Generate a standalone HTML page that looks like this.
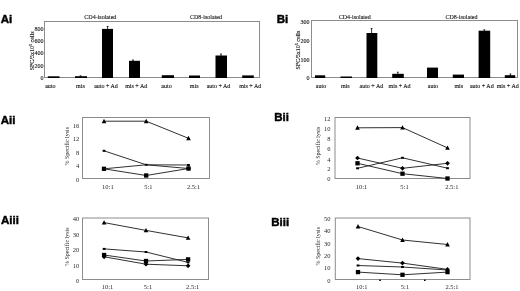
<!DOCTYPE html>
<html><head><meta charset="utf-8">
<style>
html,body{margin:0;padding:0;background:#fff;}
body{width:520px;height:291px;overflow:hidden;}
svg{display:block;font-family:"Liberation Serif",serif;filter:grayscale(1);}
.bar text{fill:#1a1a1a;stroke:#1a1a1a;stroke-width:0.13px;}
.ln text{fill:#2a2a2a;stroke:none;}
.pl{font-family:"Liberation Sans",sans-serif;font-weight:bold;font-size:11.5px;fill:#000;stroke:#000;stroke-width:0.45px;}
</style></head>
<body>
<svg width="520" height="291" viewBox="0 0 520 291">
<rect width="520" height="291" fill="#fff"/>
<text x="0.7" y="22.9" class="pl">Ai</text>
<text x="276.8" y="22.6" class="pl">Bi</text>
<text x="0.7" y="123.8" class="pl">Aii</text>
<text x="274.3" y="120.9" class="pl">Bii</text>
<text x="1.0" y="224.2" class="pl">Aiii</text>
<text x="271.2" y="225.9" class="pl">Biii</text>
<g class="bar">
<rect x="44.5" y="21.5" width="215.0" height="56.0" fill="none" stroke="#8c8c8c" stroke-width="1"/>
<text x="43.6" y="30.5" text-anchor="end" font-size="6.0" >800</text>
<text x="43.6" y="42.8" text-anchor="end" font-size="6.0" >600</text>
<text x="43.6" y="55.3" text-anchor="end" font-size="6.0" >400</text>
<text x="43.6" y="67.7" text-anchor="end" font-size="6.0" >200</text>
<text x="43.6" y="79.9" text-anchor="end" font-size="6.0" >0</text>
<text x="0" y="0" text-anchor="middle" font-size="6.0" transform="translate(33.5,50.9) rotate(-90)">SFC/5x10<tspan font-size='4' dy='-2'>5</tspan><tspan dy='2'> cells</tspan></text>
<text x="100.3" y="19.4" text-anchor="middle" font-size="6.0" >CD4-isolated</text>
<text x="206.0" y="19.2" text-anchor="middle" font-size="6.0" >CD8-isolated</text>
<rect x="47.8" y="76.3" width="11.7" height="1.7" fill="#000"/>
<rect x="75" y="76.2" width="12" height="1.8" fill="#000"/>
<rect x="102" y="28.9" width="11" height="49.1" fill="#000"/>
<rect x="129" y="60.8" width="11" height="17.2" fill="#000"/>
<rect x="161.8" y="75.2" width="12.2" height="2.8" fill="#000"/>
<rect x="189" y="75.5" width="11" height="2.5" fill="#000"/>
<rect x="215.5" y="55.5" width="11.5" height="22.5" fill="#000"/>
<rect x="242.2" y="75.4" width="11.6" height="2.6" fill="#000"/>
<line x1="107.6" y1="26.5" x2="107.6" y2="29" stroke="#000" stroke-width="0.8"/>
<line x1="106.7" y1="26.5" x2="108.5" y2="26.5" stroke="#000" stroke-width="0.8"/>
<line x1="221.0" y1="54.0" x2="221.0" y2="56" stroke="#000" stroke-width="0.8"/>
<line x1="220.1" y1="54.0" x2="221.9" y2="54.0" stroke="#000" stroke-width="0.8"/>
<line x1="133.0" y1="60.0" x2="133.0" y2="61" stroke="#000" stroke-width="0.8"/>
<line x1="132.1" y1="60.0" x2="133.9" y2="60.0" stroke="#000" stroke-width="0.8"/>
<line x1="80.5" y1="75.8" x2="80.5" y2="76.5" stroke="#000" stroke-width="0.8"/>
<line x1="79.6" y1="75.8" x2="81.4" y2="75.8" stroke="#000" stroke-width="0.8"/>
<text x="50.3" y="88.3" text-anchor="middle" font-size="6.0" >auto</text>
<text x="80.4" y="88.3" text-anchor="middle" font-size="6.0" >mis</text>
<text x="106.0" y="88.3" text-anchor="middle" font-size="6.0" >auto + Ad</text>
<text x="136.2" y="88.3" text-anchor="middle" font-size="6.0" >mis + Ad</text>
<text x="166.5" y="88.3" text-anchor="middle" font-size="6.0" >auto</text>
<text x="194.2" y="88.3" text-anchor="middle" font-size="6.0" >mis</text>
<text x="218.5" y="88.3" text-anchor="middle" font-size="6.0" >auto + Ad</text>
<text x="250.2" y="88.3" text-anchor="middle" font-size="6.0" >mis + Ad</text>
</g>
<g class="bar">
<rect x="311.5" y="20.5" width="206.0" height="57.0" fill="none" stroke="#8c8c8c" stroke-width="1"/>
<text x="309.6" y="24.3" text-anchor="end" font-size="6.0" >300</text>
<text x="309.6" y="43.0" text-anchor="end" font-size="6.0" >200</text>
<text x="309.6" y="61.8" text-anchor="end" font-size="6.0" >100</text>
<text x="309.6" y="80.4" text-anchor="end" font-size="6.0" >0</text>
<text x="0" y="0" text-anchor="middle" font-size="6.0" transform="translate(300.3,50.1) rotate(-90)">SFC/5x10<tspan font-size='4' dy='-2'>5</tspan><tspan dy='2'> cells</tspan></text>
<text x="354.7" y="19.1" text-anchor="middle" font-size="6.0" >CD4-isolated</text>
<text x="461.5" y="19.0" text-anchor="middle" font-size="6.0" >CD8-isolated</text>
<rect x="315" y="75.3" width="10.2" height="2.7" fill="#000"/>
<rect x="340.5" y="76.5" width="11.5" height="1.5" fill="#000"/>
<rect x="366.5" y="33.0" width="10.8" height="45.0" fill="#000"/>
<rect x="392.2" y="73.8" width="11.6" height="4.2" fill="#000"/>
<rect x="427" y="67.6" width="11" height="10.4" fill="#000"/>
<rect x="452.8" y="74.6" width="11.2" height="3.4" fill="#000"/>
<rect x="478.6" y="30.7" width="11.6" height="47.3" fill="#000"/>
<rect x="504.8" y="75.2" width="10.4" height="2.8" fill="#000"/>
<line x1="371.6" y1="28.5" x2="371.6" y2="34" stroke="#000" stroke-width="0.8"/>
<line x1="370.7" y1="28.5" x2="372.5" y2="28.5" stroke="#000" stroke-width="0.8"/>
<line x1="397.8" y1="72.2" x2="397.8" y2="74" stroke="#000" stroke-width="0.8"/>
<line x1="396.9" y1="72.2" x2="398.7" y2="72.2" stroke="#000" stroke-width="0.8"/>
<line x1="484.3" y1="29.8" x2="484.3" y2="31" stroke="#000" stroke-width="0.8"/>
<line x1="483.4" y1="29.8" x2="485.2" y2="29.8" stroke="#000" stroke-width="0.8"/>
<line x1="510.4" y1="74.0" x2="510.4" y2="75.5" stroke="#000" stroke-width="0.8"/>
<line x1="509.5" y1="74.0" x2="511.3" y2="74.0" stroke="#000" stroke-width="0.8"/>
<text x="321.0" y="87.9" text-anchor="middle" font-size="6.0" >auto</text>
<text x="345.3" y="87.9" text-anchor="middle" font-size="6.0" >mis</text>
<text x="371.4" y="87.9" text-anchor="middle" font-size="6.0" >auto + Ad</text>
<text x="399.6" y="87.9" text-anchor="middle" font-size="6.0" >mis + Ad</text>
<text x="432.9" y="87.9" text-anchor="middle" font-size="6.0" >auto</text>
<text x="458.8" y="87.9" text-anchor="middle" font-size="6.0" >mis</text>
<text x="481.8" y="87.9" text-anchor="middle" font-size="6.0" >auto + Ad</text>
<text x="507.7" y="87.9" text-anchor="middle" font-size="6.0" >mis + Ad</text>
</g>
<g class="ln">
<rect x="82.5" y="117.5" width="127.0" height="61.0" fill="none" stroke="#8c8c8c" stroke-width="1"/>
<text x="79.3" y="127.7" text-anchor="end" font-size="6.5" >16</text>
<text x="79.3" y="141.2" text-anchor="end" font-size="6.5" >12</text>
<text x="79.3" y="154.7" text-anchor="end" font-size="6.5" >8</text>
<text x="79.3" y="168.2" text-anchor="end" font-size="6.5" >4</text>
<text x="79.3" y="181.9" text-anchor="end" font-size="6.5" >0</text>
<text x="0" y="0" text-anchor="middle" font-size="6.0" transform="translate(68.6,146.25) rotate(-90)">% Specific lysis</text>
<polyline points="104.0,121.2 146.2,121.2 188.5,138.3" fill="none" stroke="#1a1a1a" stroke-width="0.9"/>
<path d="M104.0,118.75 L106.33,123.16 L101.67,123.16 Z" fill="#000"/>
<path d="M146.2,118.75 L148.53,123.16 L143.87,123.16 Z" fill="#000"/>
<path d="M188.5,135.85 L190.83,140.26 L186.17,140.26 Z" fill="#000"/>
<polyline points="104.0,150.8 146.2,164.8 188.5,165.0" fill="none" stroke="#1a1a1a" stroke-width="0.9"/>
<rect x="102.6" y="149.8" width="2.8" height="2.0" fill="#000"/>
<rect x="144.8" y="163.8" width="2.8" height="2.0" fill="#000"/>
<rect x="187.1" y="164.0" width="2.8" height="2.0" fill="#000"/>
<polyline points="104.0,168.8 146.2,175.5 188.5,168.5" fill="none" stroke="#1a1a1a" stroke-width="0.9"/>
<rect x="101.85" y="166.65" width="4.3" height="4.3" fill="#000"/>
<rect x="144.05" y="173.35" width="4.3" height="4.3" fill="#000"/>
<rect x="186.35" y="166.35" width="4.3" height="4.3" fill="#000"/>
<polyline points="104.0,168.8 146.2,164.8 188.5,168.5" fill="none" stroke="#1a1a1a" stroke-width="0.9"/>
<circle cx="188.5" cy="168.5" r="2.1" fill="#000"/>
<text x="107.9" y="189.2" text-anchor="middle" font-size="6.5" >10:1</text>
<text x="148.4" y="189.2" text-anchor="middle" font-size="6.5" >5:1</text>
<text x="193.5" y="189.2" text-anchor="middle" font-size="6.5" >2.5:1</text>
</g>
<g class="ln">
<rect x="335.0" y="117.5" width="135.0" height="61.0" fill="none" stroke="#8c8c8c" stroke-width="1"/>
<text x="330.4" y="120.5" text-anchor="end" font-size="6.5" >12</text>
<text x="330.4" y="130.7" text-anchor="end" font-size="6.5" >10</text>
<text x="330.4" y="140.7" text-anchor="end" font-size="6.5" >8</text>
<text x="330.4" y="151.4" text-anchor="end" font-size="6.5" >6</text>
<text x="330.4" y="161.5" text-anchor="end" font-size="6.5" >4</text>
<text x="330.4" y="171.2" text-anchor="end" font-size="6.5" >2</text>
<text x="330.4" y="181.2" text-anchor="end" font-size="6.5" >0</text>
<text x="0" y="0" text-anchor="middle" font-size="6.0" transform="translate(320.0,146.0) rotate(-90)">% Specific lysis</text>
<polyline points="357.5,127.8 402.5,127.6 447.5,147.9" fill="none" stroke="#1a1a1a" stroke-width="0.9"/>
<path d="M357.5,125.35 L359.83,129.76 L355.17,129.76 Z" fill="#000"/>
<path d="M402.5,125.15 L404.83,129.56 L400.17,129.56 Z" fill="#000"/>
<path d="M447.5,145.45 L449.83,149.86 L445.17,149.86 Z" fill="#000"/>
<polyline points="357.5,158.0 402.5,168.3 447.5,163.3" fill="none" stroke="#1a1a1a" stroke-width="0.9"/>
<path d="M357.5,155.65 L359.85,158.0 L357.5,160.35 L355.15,158.0 Z" fill="#000"/>
<path d="M402.5,165.95 L404.85,168.3 L402.5,170.65 L400.15,168.3 Z" fill="#000"/>
<path d="M447.5,160.95 L449.85,163.3 L447.5,165.65 L445.15,163.3 Z" fill="#000"/>
<polyline points="357.5,163.3 402.5,173.7 447.5,178.5" fill="none" stroke="#1a1a1a" stroke-width="0.9"/>
<rect x="355.35" y="161.15" width="4.3" height="4.3" fill="#000"/>
<rect x="400.35" y="171.55" width="4.3" height="4.3" fill="#000"/>
<rect x="445.35" y="176.35" width="4.3" height="4.3" fill="#000"/>
<polyline points="357.5,168.3 402.5,157.8 447.5,168.2" fill="none" stroke="#1a1a1a" stroke-width="0.9"/>
<rect x="356.1" y="167.3" width="2.8" height="2.0" fill="#000"/>
<rect x="401.1" y="156.8" width="2.8" height="2.0" fill="#000"/>
<rect x="446.1" y="167.2" width="2.8" height="2.0" fill="#000"/>
<text x="361.5" y="188.9" text-anchor="middle" font-size="6.5" >10:1</text>
<text x="404.5" y="188.9" text-anchor="middle" font-size="6.5" >5:1</text>
<text x="451.8" y="188.9" text-anchor="middle" font-size="6.5" >2.5:1</text>
</g>
<g class="ln">
<rect x="82.5" y="218.0" width="126.0" height="61.5" fill="none" stroke="#8c8c8c" stroke-width="1"/>
<text x="79.3" y="220.6" text-anchor="end" font-size="6.5" >40</text>
<text x="79.3" y="236.7" text-anchor="end" font-size="6.5" >30</text>
<text x="79.3" y="252.2" text-anchor="end" font-size="6.5" >20</text>
<text x="79.3" y="267.7" text-anchor="end" font-size="6.5" >10</text>
<text x="79.3" y="282.9" text-anchor="end" font-size="6.5" >0</text>
<text x="0" y="0" text-anchor="middle" font-size="6.0" transform="translate(68.6,246.75) rotate(-90)">% Specific lysis</text>
<polyline points="104.1,222.6 146.0,230.4 188.1,237.9" fill="none" stroke="#1a1a1a" stroke-width="0.9"/>
<path d="M104.1,220.15 L106.43,224.56 L101.77,224.56 Z" fill="#000"/>
<path d="M146.0,227.95 L148.33,232.36 L143.67,232.36 Z" fill="#000"/>
<path d="M188.1,235.45 L190.43,239.86 L185.77,239.86 Z" fill="#000"/>
<polyline points="104.1,248.9 146.0,252.0 188.1,262.4" fill="none" stroke="#1a1a1a" stroke-width="0.9"/>
<rect x="102.7" y="247.9" width="2.8" height="2.0" fill="#000"/>
<rect x="144.6" y="251.0" width="2.8" height="2.0" fill="#000"/>
<rect x="186.7" y="261.4" width="2.8" height="2.0" fill="#000"/>
<polyline points="104.1,255.0 146.0,261.0 188.1,259.4" fill="none" stroke="#1a1a1a" stroke-width="0.9"/>
<rect x="101.95" y="252.85" width="4.3" height="4.3" fill="#000"/>
<rect x="143.85" y="258.85" width="4.3" height="4.3" fill="#000"/>
<rect x="185.95" y="257.25" width="4.3" height="4.3" fill="#000"/>
<polyline points="104.1,256.8 146.0,264.2 188.1,265.8" fill="none" stroke="#1a1a1a" stroke-width="0.9"/>
<path d="M104.1,254.45 L106.45,256.8 L104.1,259.15 L101.75,256.8 Z" fill="#000"/>
<path d="M146.0,261.85 L148.35,264.2 L146.0,266.55 L143.65,264.2 Z" fill="#000"/>
<path d="M188.1,263.45 L190.45,265.8 L188.1,268.15 L185.75,265.8 Z" fill="#000"/>
<text x="107.5" y="289.4" text-anchor="middle" font-size="6.5" >10:1</text>
<text x="148.0" y="289.4" text-anchor="middle" font-size="6.5" >5:1</text>
<text x="192.7" y="289.4" text-anchor="middle" font-size="6.5" >2.5:1</text>
</g>
<g class="ln">
<rect x="335.3" y="218.0" width="134.7" height="61.5" fill="none" stroke="#8c8c8c" stroke-width="1"/>
<text x="330.4" y="220.8" text-anchor="end" font-size="6.5" >50</text>
<text x="330.4" y="233.2" text-anchor="end" font-size="6.5" >40</text>
<text x="330.4" y="246.0" text-anchor="end" font-size="6.5" >30</text>
<text x="330.4" y="257.7" text-anchor="end" font-size="6.5" >20</text>
<text x="330.4" y="270.4" text-anchor="end" font-size="6.5" >10</text>
<text x="330.4" y="282.6" text-anchor="end" font-size="6.5" >0</text>
<text x="0" y="0" text-anchor="middle" font-size="6.0" transform="translate(320.0,246.25) rotate(-90)">% Specific lysis</text>
<polyline points="358.0,226.5 402.5,240.0 447.5,244.5" fill="none" stroke="#1a1a1a" stroke-width="0.9"/>
<path d="M358.0,224.05 L360.33,228.46 L355.67,228.46 Z" fill="#000"/>
<path d="M402.5,237.55 L404.83,241.96 L400.17,241.96 Z" fill="#000"/>
<path d="M447.5,242.05 L449.83,246.46 L445.17,246.46 Z" fill="#000"/>
<polyline points="358.0,258.6 402.5,263.1 447.5,269.4" fill="none" stroke="#1a1a1a" stroke-width="0.9"/>
<path d="M358.0,256.25 L360.35,258.6 L358.0,260.95 L355.65,258.6 Z" fill="#000"/>
<path d="M402.5,260.75 L404.85,263.1 L402.5,265.45 L400.15,263.1 Z" fill="#000"/>
<path d="M447.5,267.05 L449.85,269.4 L447.5,271.75 L445.15,269.4 Z" fill="#000"/>
<polyline points="358.0,265.5 402.5,267.0 447.5,270.0" fill="none" stroke="#1a1a1a" stroke-width="0.9"/>
<rect x="356.6" y="264.5" width="2.8" height="2.0" fill="#000"/>
<rect x="401.1" y="266.0" width="2.8" height="2.0" fill="#000"/>
<rect x="446.1" y="269.0" width="2.8" height="2.0" fill="#000"/>
<polyline points="358.0,272.1 402.5,274.8 447.5,272.1" fill="none" stroke="#1a1a1a" stroke-width="0.9"/>
<rect x="355.85" y="269.95" width="4.3" height="4.3" fill="#000"/>
<rect x="400.35" y="272.65" width="4.3" height="4.3" fill="#000"/>
<rect x="445.35" y="269.95" width="4.3" height="4.3" fill="#000"/>
<rect x="379.3" y="279.6" width="1.6" height="1.4" fill="#000"/>
<rect x="424.0" y="279.6" width="1.6" height="1.4" fill="#000"/>
<text x="361.8" y="289.3" text-anchor="middle" font-size="6.5" >10:1</text>
<text x="405.0" y="289.3" text-anchor="middle" font-size="6.5" >5:1</text>
<text x="452.0" y="289.3" text-anchor="middle" font-size="6.5" >2.5:1</text>
</g>
</svg>
</body></html>
